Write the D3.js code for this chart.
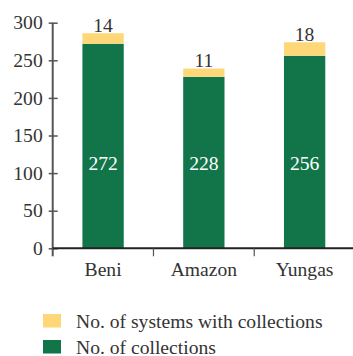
<!DOCTYPE html>
<html>
<head>
<meta charset="utf-8">
<script src="https://cdn.jsdelivr.net/npm/d3@7"></script>
<style>
  html, body { margin: 0; padding: 0; background: #fff; }
  svg { display: block; }
  text { font-family: "Liberation Serif", "Times New Roman", serif; }
</style>
</head>
<body>
<svg id="chart" width="353" height="356"></svg>
<script>
// Collections per region (stacked: collections + systems with collections)
const regions = ["Beni", "Amazon", "Yungas"];
const collections = [272, 228, 256];
const systemsWithCollections = [14, 11, 18];
const yTicks = [0, 50, 100, 150, 200, 250, 300];
const seriesNames = ["No. of systems with collections", "No. of collections"];
const colors = { collections: "#12754a", systems: "#fed878" };

const svg = d3.select("#chart");
const baseY = 248.3, topY = 22.7, leftX = 52.7, rightX = 355;
const fs = 19.6;

const y = d3.scaleLinear().domain([0, 300]).range([baseY, topY]);
const x = d3.scaleBand().domain(regions).range([leftX, rightX]).padding(0);
const barW = x.step() * 0.41;

const rows = regions.map((r, i) => ({
  region: r, collections: collections[i], systems: systemsWithCollections[i]
}));

// green: number of collections
svg.append("g").selectAll("rect").data(rows).join("rect")
  .attr("x", d => x(d.region) + x.bandwidth() / 2 - barW / 2)
  .attr("width", barW)
  .attr("y", d => y(d.collections))
  .attr("height", d => y(0) - y(d.collections))
  .attr("fill", colors.collections);

// yellow: systems with collections, stacked on top
svg.append("g").selectAll("rect").data(rows).join("rect")
  .attr("x", d => x(d.region) + x.bandwidth() / 2 - barW / 2)
  .attr("width", barW)
  .attr("y", d => y(d.collections + d.systems))
  .attr("height", d => y(d.collections) - y(d.collections + d.systems))
  .attr("fill", colors.systems);

// value labels
svg.append("g").selectAll("text").data(rows).join("text")
  .attr("x", d => x(d.region) + x.bandwidth() / 2)
  .attr("y", d => y(d.collections + d.systems) - 1.5)
  .attr("text-anchor", "middle")
  .attr("font-size", fs)
  .attr("fill", "#333")
  .text(d => d.systems);

svg.append("g").selectAll("text").data(rows).join("text")
  .attr("x", d => x(d.region) + x.bandwidth() / 2)
  .attr("y", 170)
  .attr("text-anchor", "middle")
  .attr("font-size", fs)
  .attr("fill", "#fff")
  .text(d => d.collections);

// y axis
const yAxis = svg.append("g").attr("transform", `translate(${leftX},0)`)
  .call(d3.axisLeft(y).tickValues(yTicks).tickSize(4).tickPadding(6));
yAxis.select(".domain").remove();
yAxis.selectAll(".tick line").attr("x2", 5).attr("x1", -4).attr("stroke", "#555").attr("stroke-width", 1.5);
yAxis.selectAll(".tick text").attr("font-size", fs).attr("fill", "#333")
  .attr("font-family", "Liberation Serif, serif").attr("x", -10);
yAxis.append("line").attr("x1", 0).attr("x2", 0).attr("y1", topY).attr("y2", baseY + 8)
  .attr("stroke", "#555").attr("stroke-width", 2);

// x axis
const xAxis = svg.append("g").attr("transform", `translate(0,${baseY})`)
  .call(d3.axisBottom(x).tickSize(0).tickPadding(14));
xAxis.select(".domain").remove();
xAxis.selectAll(".tick text").attr("font-size", fs).attr("fill", "#333")
  .attr("font-family", "Liberation Serif, serif");
xAxis.append("line").attr("x1", leftX).attr("x2", 353).attr("y1", 0).attr("y2", 0)
  .attr("stroke", "#222").attr("stroke-width", 2);
xAxis.selectAll(".sep").data(regions.slice(1)).join("line")
  .attr("class", "sep")
  .attr("x1", d => x(d)).attr("x2", d => x(d))
  .attr("y1", 0).attr("y2", 8)
  .attr("stroke", "#555").attr("stroke-width", 1.2);

// legend
const legend = svg.append("g");
const legendColors = [colors.systems, colors.collections];
seriesNames.forEach((name, i) => {
  const g = legend.append("g").attr("transform", `translate(43,${314 + i * 26})`);
  g.append("rect").attr("width", 18).attr("height", 13.5).attr("fill", legendColors[i]);
  g.append("text").attr("x", 33).attr("y", 13.5)
    .attr("font-size", fs).attr("fill", "#333").text(name);
});
</script>
</body>
</html>
